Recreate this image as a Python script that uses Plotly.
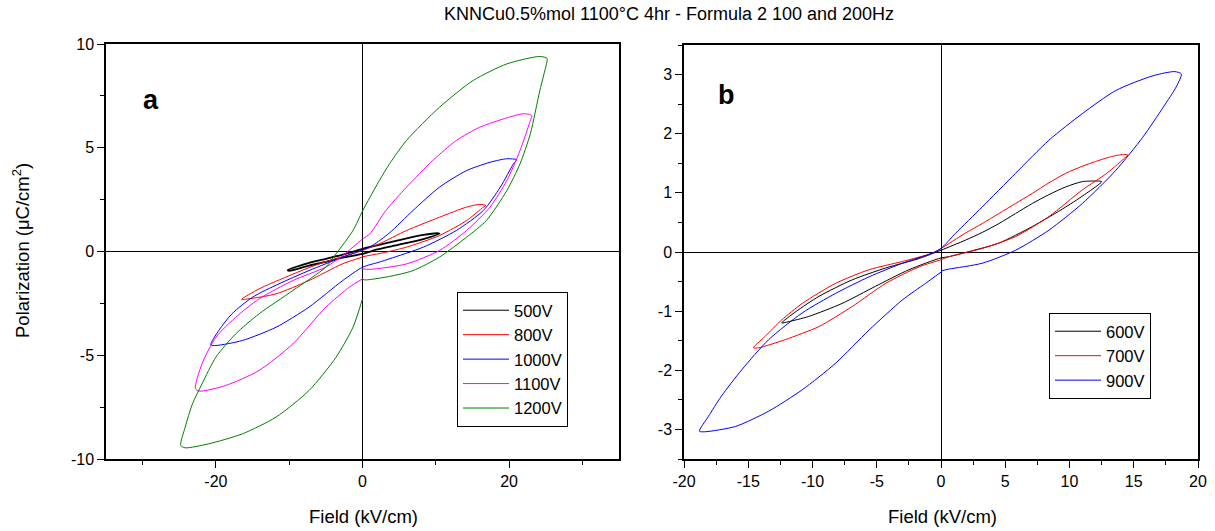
import plotly.graph_objects as go

# ---------------- Panel a (100 Hz) ----------------
labels_a = ["500V", "800V", "1000V", "1100V", "1200V"]
colors_a = ["#000000", "#ff0000", "#0000ff", "#ff00ff", "#008000"]

e_500 = [0.0, 2.0, 5.0, 8.3, 10.5, 10.2, 8.3, 5.0, 2.0, 0.0, -2.7, -5.0, -7.3, -10.2, -10.0, -7.3, -5.0, -2.7, 0.0]
p_500 = [-0.12, 0.1, 0.33, 0.6, 0.86, 0.88, 0.8, 0.55, 0.3, 0.13, -0.15, -0.35, -0.55, -0.9, -0.93, -0.68, -0.5, -0.3, -0.12]

e_800 = [0.0, 3.0, 6.0, 10.5, 14.2, 16.5, 16.85, 16.0, 14.2, 10.5, 6.0, 2.3, 0.0, -1.3, -5.9, -10.5, -14.1, -16.5, -15.5, -11.8, -7.3, -2.7, 0.0]
p_800 = [-0.25, -0.05, 0.21, 0.77, 1.49, 2.14, 2.22, 2.27, 2.14, 1.65, 1.01, 0.37, 0.05, -0.11, -0.59, -1.24, -1.8, -2.31, -2.28, -2.04, -1.4, -0.59, -0.27]

e_1000 = [0.0, 2.3, 3.7, 8.3, 12.8, 16.5, 18.8, 20.6, 21.0, 19.7, 17.4, 14.2, 10.5, 6.9, 3.7, 1.4, 0.0, -2.7, -7.3, -11.4, -15.0, -17.8, -19.6, -20.7, -20.0, -16.4, -11.8, -7.3, -2.7, 0.0]
p_1000 = [-0.76, -0.51, -0.35, 0.21, 1.01, 1.98, 3.1, 4.23, 4.42, 4.47, 4.3, 3.9, 3.1, 1.98, 0.9, 0.3, 0.08, -0.27, -0.92, -1.56, -2.2, -3.0, -3.8, -4.5, -4.53, -4.29, -3.65, -2.68, -1.4, -0.76]

e_1100 = [0.0, 1.0, 6.0, 10.5, 14.2, 17.4, 19.7, 21.5, 22.9, 23.1, 22.0, 19.7, 16.0, 12.8, 9.6, 6.0, 3.2, 1.0, 0.0, -2.7, -5.0, -9.5, -14.1, -17.3, -20.0, -21.9, -22.8, -22.3, -18.7, -14.1, -9.5, -5.0, -1.8, 0.0]
p_1100 = [-0.84, -0.86, -0.6, 0.05, 1.01, 2.14, 3.42, 4.87, 6.31, 6.55, 6.64, 6.44, 5.99, 5.35, 4.39, 3.1, 1.98, 0.85, 0.6, -0.2, -0.75, -1.4, -2.28, -3.17, -4.13, -5.41, -6.6, -6.73, -6.46, -5.73, -4.45, -2.68, -1.72, -1.32]

e_1200 = [0.0, 0.5, 3.7, 6.9, 10.5, 14.2, 16.9, 19.7, 21.5, 22.9, 24.2, 25.1, 25.2, 24.2, 19.7, 15.1, 10.5, 6.0, 3.7, 2.3, 1.0, 0.0, -1.3, -3.6, -5.0, -9.5, -14.1, -17.3, -20.0, -21.9, -23.2, -24.2, -24.8, -24.2, -21.0, -16.4, -11.8, -7.3, -3.6, -1.3, 0.0]
p_1200 = [-1.35, -1.37, -1.2, -0.92, -0.27, 0.69, 1.49, 2.94, 4.23, 5.67, 7.76, 9.04, 9.3, 9.4, 9.04, 8.24, 6.95, 5.35, 4.23, 3.42, 2.6, 1.95, 1.01, -0.11, -0.75, -1.88, -3.0, -3.97, -5.09, -6.38, -7.34, -8.47, -9.35, -9.46, -9.27, -8.79, -7.98, -6.7, -5.09, -3.65, -2.28]

# ---------------- Panel b (200 Hz) ----------------
labels_b = ["600V", "700V", "900V"]
colors_b = ["#000000", "#ff0000", "#0000ff"]

e_600 = [0.0, 0.6, 2.4, 4.5, 7.1, 9.7, 11.3, 12.5, 12.1, 11.0, 9.7, 8.4, 7.1, 5.8, 4.5, 3.2, 1.9, 0.0, -1.7, -4.3, -6.9, -9.5, -11.3, -12.4, -11.9, -10.3, -7.7, -5.1, -2.5, 0.0]
p_600 = [-0.10, -0.08, 0.02, 0.15, 0.43, 0.76, 0.99, 1.19, 1.2, 1.19, 1.1, 0.97, 0.82, 0.65, 0.48, 0.33, 0.2, 0.03, -0.11, -0.27, -0.47, -0.75, -1.01, -1.2, -1.18, -1.09, -0.87, -0.58, -0.30, -0.10]

e_700 = [0.0, 0.6, 3.2, 5.8, 8.4, 11.0, 12.9, 14.4, 14.55, 14.2, 13.2, 12.3, 11.0, 9.7, 8.4, 7.1, 5.8, 4.5, 3.2, 1.9, 0.0, -0.7, -3.0, -5.6, -8.2, -10.8, -12.4, -13.7, -14.6, -14.2, -12.1, -9.5, -6.9, -4.3, -1.7, 0.0]
p_700 = [-0.13, -0.08, 0.06, 0.26, 0.60, 1.05, 1.33, 1.61, 1.64, 1.65, 1.61, 1.55, 1.45, 1.33, 1.17, 0.99, 0.82, 0.65, 0.48, 0.32, 0.06, -0.02, -0.16, -0.30, -0.53, -0.87, -1.15, -1.43, -1.62, -1.62, -1.48, -1.26, -0.92, -0.53, -0.25, -0.13]

e_900 = [0.0, 0.6, 3.2, 5.8, 8.4, 11.0, 13.6, 15.7, 17.3, 18.3, 18.7, 18.2, 16.5, 13.6, 11.0, 8.4, 5.8, 3.2, 1.15, 0.0, -0.7, -3.0, -5.6, -8.2, -10.8, -13.4, -15.5, -17.1, -18.1, -18.8, -18.4, -16.0, -13.4, -10.8, -8.2, -5.6, -3.0, -1.2, 0.0]
p_900 = [-0.32, -0.29, -0.19, 0.03, 0.37, 0.82, 1.38, 1.94, 2.45, 2.79, 3.01, 3.05, 2.98, 2.73, 2.34, 1.89, 1.33, 0.76, 0.32, 0.06, -0.02, -0.19, -0.42, -0.70, -1.03, -1.48, -1.99, -2.44, -2.78, -3.03, -3.04, -2.95, -2.69, -2.33, -1.88, -1.32, -0.81, -0.53, -0.34]

# ---------------- Ticks & texts ----------------
xticks_a = [-20, 0, 20]
xticklabels_a = ["-20", "0", "20"]
yticks_a = [-10, -5, 0, 5, 10]
yticklabels_a = ["-10", "-5", "0", "5", "10"]
xticks_b = [-20, -15, -10, -5, 0, 5, 10, 15, 20]
xticklabels_b = ["-20", "-15", "-10", "-5", "0", "5", "10", "15", "20"]
yticks_b = [-3, -2, -1, 0, 1, 2, 3]
yticklabels_b = ["-3", "-2", "-1", "0", "1", "2", "3"]

title_text = "KNNCu0.5%mol 1100°C 4hr - Formula 2 100 and 200Hz"
x_title = "Field (kV/cm)"
y_title = "Polarization (μC/cm<sup>2</sup>)"

FONT = "Liberation Sans, Arial, sans-serif"
W, H = 1215, 531

series_a = [(e_500, p_500), (e_800, p_800), (e_1000, p_1000), (e_1100, p_1100), (e_1200, p_1200)]
series_b = [(e_600, p_600), (e_700, p_700), (e_900, p_900)]

fig = go.Figure()
for (e, p), lab, col in zip(series_a, labels_a, colors_a):
    thick = lab == "500V"
    if thick:
        # legend-only entry: the reference legend shows a thin line for 500V
        fig.add_trace(go.Scatter(
            x=[None], y=[None], mode="lines", name=lab, xaxis="x", yaxis="y",
            legend="legend", line=dict(color=col, width=1.0),
        ))
    fig.add_trace(go.Scatter(
        x=e, y=p, mode="lines", name=lab, xaxis="x", yaxis="y", legend="legend",
        showlegend=not thick,
        line=dict(color=col, width=1.8 if thick else 1.0, shape="spline", smoothing=0.7),
    ))
for (e, p), lab, col in zip(series_b, labels_b, colors_b):
    fig.add_trace(go.Scatter(
        x=e, y=p, mode="lines", name=lab, xaxis="x2", yaxis="y2", legend="legend2",
        line=dict(color=col, width=1.0, shape="spline", smoothing=0.7),
    ))

def px_x(v):
    return v / W

def px_y(v):
    return 1 - v / H

axis_common = dict(
    showline=True, linecolor="black", linewidth=1.5, mirror=True,
    ticks="outside", ticklen=7, tickwidth=1.3, tickcolor="black",
    showgrid=False, zeroline=True, zerolinecolor="black", zerolinewidth=1.3,
    tickfont=dict(family=FONT, size=16, color="black"), automargin=False,
)
minor_common = dict(ticks="outside", ticklen=4, tickcolor="black", tickwidth=1.3)

legend_common = dict(xanchor="left", yanchor="top", bordercolor="black", borderwidth=1,
                     bgcolor="white", font=dict(family=FONT, size=16.5, color="black"),
                     tracegroupgap=0, itemwidth=46)

fig.update_layout(
    width=W, height=H,
    margin=dict(l=0, r=0, t=0, b=0),
    paper_bgcolor="white", plot_bgcolor="white",
    font=dict(family=FONT, color="black"),
    xaxis=dict(domain=[px_x(106), px_x(619)], range=[-35, 35],
               tickvals=xticks_a, ticktext=xticklabels_a,
               minor=dict(dtick=10, tick0=0, **minor_common),
               anchor="y", **axis_common),
    yaxis=dict(domain=[px_y(459), px_y(44)], range=[-10, 10],
               tickvals=yticks_a, ticktext=yticklabels_a,
               minor=dict(dtick=2.5, tick0=0, **minor_common),
               anchor="x", **axis_common),
    xaxis2=dict(domain=[px_x(684), px_x(1198)], range=[-20, 20],
                tickvals=xticks_b, ticktext=xticklabels_b,
                minor=dict(dtick=2.5, tick0=0, **minor_common),
                anchor="y2", **axis_common),
    yaxis2=dict(domain=[px_y(459), px_y(45)], range=[-3.5, 3.5],
                tickvals=yticks_b, ticktext=yticklabels_b,
                minor=dict(dtick=0.5, tick0=0, **minor_common),
                anchor="x2", **axis_common),
    legend=dict(x=px_x(457), y=px_y(292), **legend_common),
    legend2=dict(x=px_x(1049), y=px_y(313), **legend_common),
    showlegend=True,
    annotations=[
        dict(text=title_text, x=px_x(442), y=px_y(14), xref="paper", yref="paper",
             xanchor="left", yanchor="middle", showarrow=False,
             font=dict(family=FONT, size=18, color="black")),
        dict(text="a", x=px_x(150.5), y=px_y(100), xref="paper", yref="paper",
             xanchor="center", yanchor="middle", showarrow=False,
             font=dict(family=FONT, size=27, color="black", weight="bold")),
        dict(text="b", x=px_x(726), y=px_y(95), xref="paper", yref="paper",
             xanchor="center", yanchor="middle", showarrow=False,
             font=dict(family=FONT, size=27, color="black", weight="bold")),
        dict(text=x_title, x=px_x(363), y=px_y(516), xref="paper", yref="paper",
             xanchor="center", yanchor="middle", showarrow=False,
             font=dict(family=FONT, size=18.5, color="black")),
        dict(text=x_title, x=px_x(942), y=px_y(516), xref="paper", yref="paper",
             xanchor="center", yanchor="middle", showarrow=False,
             font=dict(family=FONT, size=18.5, color="black")),
        dict(text=y_title, x=px_x(21), y=px_y(251), xref="paper", yref="paper",
             xanchor="center", yanchor="middle", showarrow=False, textangle=-90,
             font=dict(family=FONT, size=18.5, color="black")),
    ],
)

fig.write_html(
    "out.html",
    post_script="document.documentElement.style.margin='0';document.body.style.margin='0';"
                "document.body.style.overflow='hidden';",
)
